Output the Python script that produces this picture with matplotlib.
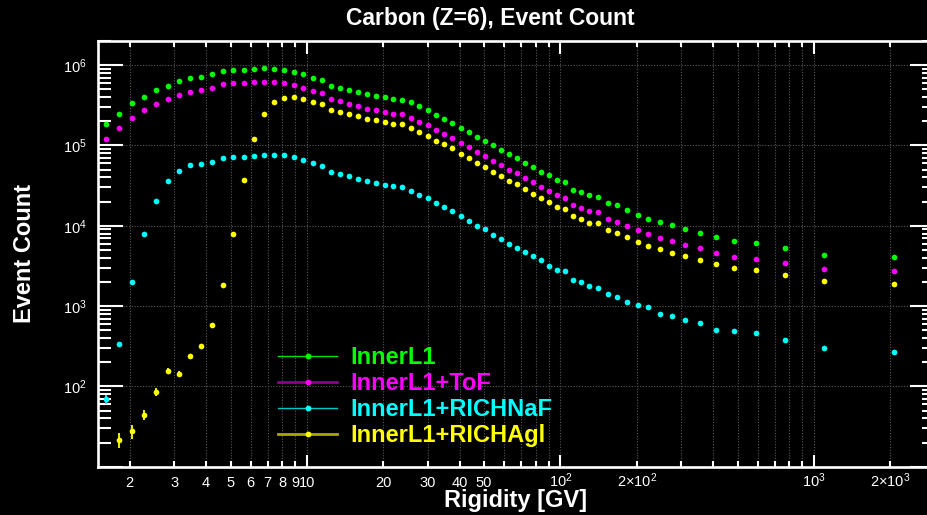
import numpy as np
import matplotlib
matplotlib.use("Agg")
import matplotlib.pyplot as plt
from matplotlib.lines import Line2D
from matplotlib.ticker import FixedLocator, FixedFormatter

plt.rcParams['font.family'] = ['Liberation Sans', 'DejaVu Sans']
plt.rcParams['mathtext.fontset'] = 'custom'
plt.rcParams['mathtext.rm'] = 'Liberation Sans'
plt.rcParams['mathtext.default'] = 'regular'

# Rigidity bin centres [GV]
rigidity = [1.61, 1.815, 2.035, 2.275, 2.535, 2.82, 3.13, 3.465, 3.83, 4.225,
            4.655, 5.125, 5.635, 6.185, 6.78, 7.425, 8.12, 8.87, 9.68, 10.55,
            11.5, 12.5, 13.55, 14.7, 15.95, 17.3, 18.75, 20.3, 21.95, 23.75,
            25.7, 27.75, 29.95, 32.3, 34.8, 37.5, 40.4, 43.5, 46.8, 50.35,
            54.15, 58.2, 62.55, 67.25, 72.3, 77.7, 83.5, 89.75, 96.5, 104,
            112, 120.5, 130, 141, 153.5, 167.5, 183.5, 201.5, 222, 246,
            275, 310.5, 354.5, 410, 483, 592.5, 770, 1090, 2070]

inner_l1 = [184500, 250000, 336000, 407000, 489000, 553000, 627000, 683000, 716000, 766000,
            850000, 883000, 883000, 892000, 910000, 892000, 875000, 826000, 773000, 702000,
            657000, 558000, 523000, 489000, 457000, 432000, 415000, 396000, 378000, 370000,
            343000, 306000, 278000, 243000, 215000, 191000, 167000, 147000, 128000, 115000,
            100000, 89000, 78000, 69500, 60800, 53700, 47400, 42700, 37400, 35300,
            28300, 26200, 23900, 23000, 19300, 17900, 15700, 13700, 12200, 11100,
            10100, 9180, 8180, 7160, 6510, 6090, 5270, 4310, 4070]

inner_l1_tof = [122000, 166000, 221000, 273000, 330000, 374000, 424000, 461000, 484000, 513000,
                586000, 603000, 603000, 609000, 620000, 620000, 603000, 569000, 527000, 479000,
                448000, 377000, 356000, 330000, 309000, 286000, 275000, 262000, 245000, 245000,
                223000, 197000, 181000, 157000, 140000, 123000, 107000, 95300, 82600, 73600,
                63800, 56900, 49800, 44800, 39600, 34600, 30600, 27300, 24100, 22300,
                18100, 16600, 15200, 14700, 12200, 11200, 9900, 8840, 7880, 7020,
                6440, 5800, 5220, 4610, 4110, 3880, 3400, 2890, 2700]

inner_l1_naf = [69.3, 336, 1980, 7940, 20500, 36000, 48400, 56400, 59200, 62700,
                70200, 72900, 72900, 74300, 75800, 75800, 75100, 71000, 65700, 59700,
                55800, 47400, 44400, 41100, 38400, 36000, 33900, 32400, 30900, 30300,
                27300, 24300, 22100, 19100, 17100, 15100, 13300, 11500, 10000, 9000,
                7720, 6820, 5910, 5220, 4730, 4230, 3710, 3180, 2830, 2720,
                2100, 1980, 1770, 1680, 1400, 1310, 1110, 1020, 981, 802,
                749, 673, 624, 500, 490, 458, 382, 300, 267]

inner_l1_agl = [np.nan, 21.6, 27.5, 44.5, 85.8, 156, 143, 240, 318, 578,
                1836, 7940, 37400, 122000, 245000, 350000, 388000, 396000, 374000, 346000,
                327000, 278000, 262000, 248000, 230000, 215000, 205000, 195000, 184000, 183000,
                164000, 146000, 133000, 115000, 104000, 91800, 78800, 68900, 60800, 54200,
                47000, 41900, 36600, 32700, 28900, 25000, 22100, 19900, 17300, 16300,
                13200, 12200, 10900, 10700, 8830, 8180, 7230, 6270, 5640, 5130,
                4570, 4190, 3700, 3300, 3000, 2780, 2450, 2070, 1910]

series_names = ['InnerL1', 'InnerL1+ToF', 'InnerL1+RICHNaF', 'InnerL1+RICHAgl']
series_values = [inner_l1, inner_l1_tof, inner_l1_naf, inner_l1_agl]
colors = ['#00ff00', '#ff00ff', '#00ffff', '#ffff00']
legend_line_colors = ['#00e000', '#8a008a', '#00c8c8', '#a8a800']
legend_line_widths = [1.0, 2.0, 1.0, 2.0]

x_major = [10, 100, 1000]
x_major_labels = ['10', '$10^{2}$', '$10^{3}$']
x_minor = [2, 3, 4, 5, 6, 7, 8, 9, 20, 30, 40, 50, 60, 70, 80, 90,
           200, 300, 400, 500, 600, 700, 800, 900, 2000]
x_minor_labels = ['2', '3', '4', '5', '6', '7', '8', '9', '20', '30', '40', '50', '', '', '', '',
                  r'$2{\times}10^{2}$', '', '', '', '', '', '', '', r'$2{\times}10^{3}$']
y_major = [1e1, 1e2, 1e3, 1e4, 1e5, 1e6]
y_major_labels = ['', '$10^{2}$', '$10^{3}$', '$10^{4}$', '$10^{5}$', '$10^{6}$']

W, H = 928, 515
fig = plt.figure(figsize=(W / 100, H / 100), dpi=100, facecolor='black')
ax = fig.add_axes([98 / W, 48.3 / H, 837 / W, 425.7 / H], facecolor='black')

x = np.array(rigidity)
for vals, col in zip(series_values, colors):
    y = np.array(vals, dtype=float)
    ax.errorbar(x, y, yerr=np.sqrt(y), fmt='o', color=col, ecolor=col,
                markersize=4.1, markeredgewidth=0, elinewidth=1.3, capsize=0, zorder=3)

ax.set_xscale('log')
ax.set_yscale('log')
ax.set_xlim(1.5, 3000)
ax.set_ylim(10, 2e6)

ax.xaxis.set_major_locator(FixedLocator(x_major))
ax.xaxis.set_major_formatter(FixedFormatter(x_major_labels))
ax.xaxis.set_minor_locator(FixedLocator(x_minor))
ax.xaxis.set_minor_formatter(FixedFormatter(x_minor_labels))
ax.yaxis.set_major_locator(FixedLocator(y_major))
ax.yaxis.set_major_formatter(FixedFormatter(y_major_labels))
ax.yaxis.set_minor_locator(FixedLocator([m * 10 ** d for d in range(1, 7) for m in range(2, 10)]))
ax.yaxis.set_minor_formatter(FixedFormatter([]))

ax.grid(which='major', color='#585858', linestyle=(0, (1, 1.5)), linewidth=0.8)
ax.grid(which='minor', axis='x', color='#585858', linestyle=(0, (1, 1.5)), linewidth=0.8)
ax.set_axisbelow(True)

for sp in ax.spines.values():
    sp.set_color('white')
    sp.set_linewidth(1.9)

ax.tick_params(axis='both', which='both', direction='in', colors='white',
               top=True, right=True, labelsize=10.5, width=1.5)
ax.tick_params(axis='y', which='major', length=18, pad=8)
ax.tick_params(axis='y', which='minor', length=9.5)
ax.tick_params(axis='x', which='major', length=9, pad=14.5)
ax.tick_params(axis='x', which='minor', length=4.5, pad=14.5)
for t in ax.xaxis.get_major_ticks() + ax.xaxis.get_minor_ticks():
    t.label1.set_verticalalignment('baseline')

handles = [Line2D([], [], color=lc, linewidth=lw, marker='o', markersize=4.2,
                  markerfacecolor=c, markeredgewidth=0)
           for c, lc, lw in zip(colors, legend_line_colors, legend_line_widths)]
leg = ax.legend(handles, series_names, loc='upper left',
                bbox_to_anchor=(278 / W, 1 - 346 / H), bbox_transform=fig.transFigure,
                frameon=False, borderpad=0, borderaxespad=0,
                handlelength=2.5, handletextpad=0.55, labelspacing=0.13,
                prop={'weight': 'bold', 'size': 17})
for txt, c in zip(leg.get_texts(), colors):
    txt.set_color(c)

fig.text(490 / W, 1 - 19 / H, 'Carbon (Z=6), Event Count', ha='center', va='center',
         color='white', fontsize=16.5, fontweight='bold')
fig.text(25 / W, 1 - 253 / H, 'Event Count', rotation=90, ha='center', va='center',
         color='white', fontsize=17, fontweight='bold')
fig.text(516 / W, 1 - 501 / H, 'Rigidity [GV]', ha='center', va='center',
         color='white', fontsize=17, fontweight='bold')

fig.savefig('out.png', dpi=100, facecolor='black')
